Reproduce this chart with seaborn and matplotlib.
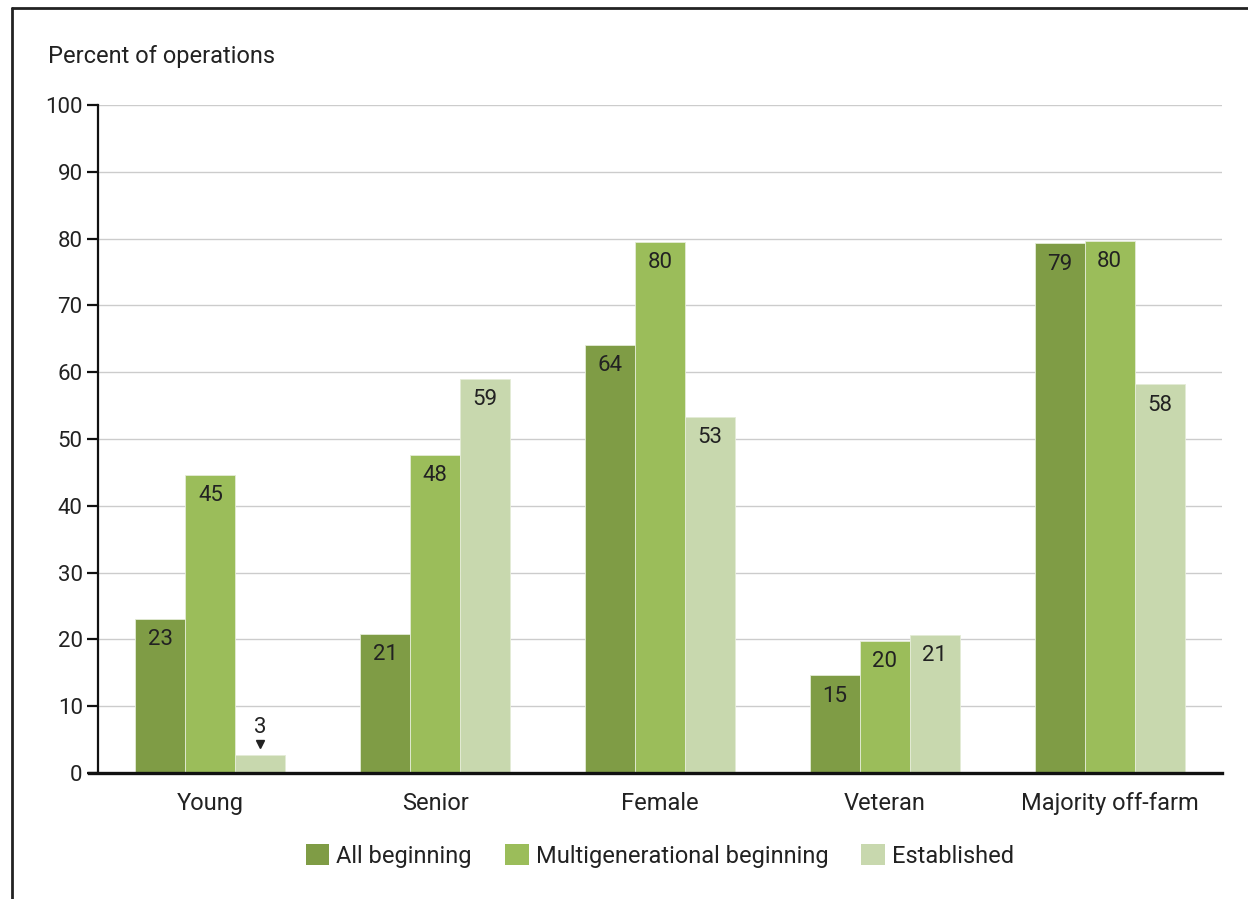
import matplotlib
matplotlib.use("Agg")
import matplotlib.pyplot as plt
import matplotlib.transforms as mtransforms
import seaborn as sns
import pandas as pd
from matplotlib.lines import Line2D
from matplotlib.patches import Patch

categories = ["Young", "Senior", "Female", "Veteran", "Majority off-farm"]
series_names = ["All beginning", "Multigenerational beginning", "Established"]
all_beginning = [23.1, 20.8, 64.1, 14.6, 79.3]
multigenerational = [44.6, 47.6, 79.5, 19.8, 79.7]
established = [2.7, 59.0, 53.3, 20.7, 58.2]
colors = ["#7f9c45", "#9bbd5a", "#c8d8ae"]
y_ticks = list(range(0, 101, 10))

rows = []
for name, vals in zip(series_names, [all_beginning, multigenerational, established]):
    for cat, v in zip(categories, vals):
        rows.append({"category": cat, "series": name, "value": v})
df = pd.DataFrame(rows)

sns.set_theme(style="white")
plt.rcParams["font.family"] = ["Roboto", "DejaVu Sans"]

fig = plt.figure(figsize=(12.48, 8.99), dpi=100)
ax = fig.add_axes([98 / 1248, 1 - 773 / 899, (1222 - 98) / 1248, (773 - 105) / 899])

sns.barplot(data=df, x="category", y="value", hue="series", order=categories,
            hue_order=series_names, palette=colors, saturation=1, width=0.667, ax=ax,
            edgecolor="#e4ecd6", linewidth=0.6, legend=False, errorbar=None)

ax.set_xlim(-0.5, 4.5)
ax.set_ylim(0, 100)
ax.set_yticks(y_ticks)
ax.yaxis.grid(True, color="#cccccc", linewidth=1.0)
ax.set_axisbelow(True)
ax.set_xlabel("")
ax.set_ylabel("")
for side in ["top", "right"]:
    ax.spines[side].set_visible(False)
ax.spines["left"].set_color("#111111")
ax.spines["left"].set_linewidth(1.6)
ax.spines["bottom"].set_color("#111111")
ax.spines["bottom"].set_linewidth(2.4)
ax.spines["bottom"].set_bounds(-0.54, 4.5)
ax.tick_params(axis="y", left=True, length=8, width=1.6, color="#111111",
               labelsize=16, labelcolor="#222222", pad=3)
ax.tick_params(axis="x", bottom=False, labelsize=17, labelcolor="#222222", pad=8)

# Value labels inside the top of each bar (above it for very short bars)
for container in ax.containers:
    for bar in container:
        h = bar.get_height()
        cx = bar.get_x() + bar.get_width() / 2
        txt = f"{h:.0f}"
        if h < 6:
            ax.annotate(txt, (cx, h), xytext=(0, 20), textcoords="offset points",
                        ha="center", va="center", fontsize=16, color="#222222")
            marker = ax.plot([cx], [h], marker="v", markersize=6, color="#222222",
                             linestyle="none")[0]
            marker.set_transform(
                ax.transData + mtransforms.ScaledTranslation(0, 8 / 72, fig.dpi_scale_trans))
        else:
            ax.annotate(txt, (cx, h), xytext=(0, -15), textcoords="offset points",
                        ha="center", va="center", fontsize=16, color="#222222")

fig.text(48 / 1248, 1 - 56 / 899, "Percent of operations", fontsize=17,
         color="#222222", ha="left", va="center")

handles = [Patch(facecolor=c, edgecolor="none") for c in colors]
fig.legend(handles, series_names, loc="center", bbox_to_anchor=(660 / 1248, 1 - 856 / 899),
           ncol=3, frameon=False, fontsize=17, handlelength=1.0, handleheight=1.0,
           handletextpad=0.3, columnspacing=1.4, labelcolor="#222222")

# Outer frame along the left and top edges
fig.add_artist(Line2D([12 / 1248, 12 / 1248], [0, 1 - 8 / 899], transform=fig.transFigure,
                      color="#222222", linewidth=2))
fig.add_artist(Line2D([12 / 1248, 1], [1 - 8 / 899, 1 - 8 / 899], transform=fig.transFigure,
                      color="#222222", linewidth=2))

fig.savefig("out.png", dpi=100, facecolor="white")
